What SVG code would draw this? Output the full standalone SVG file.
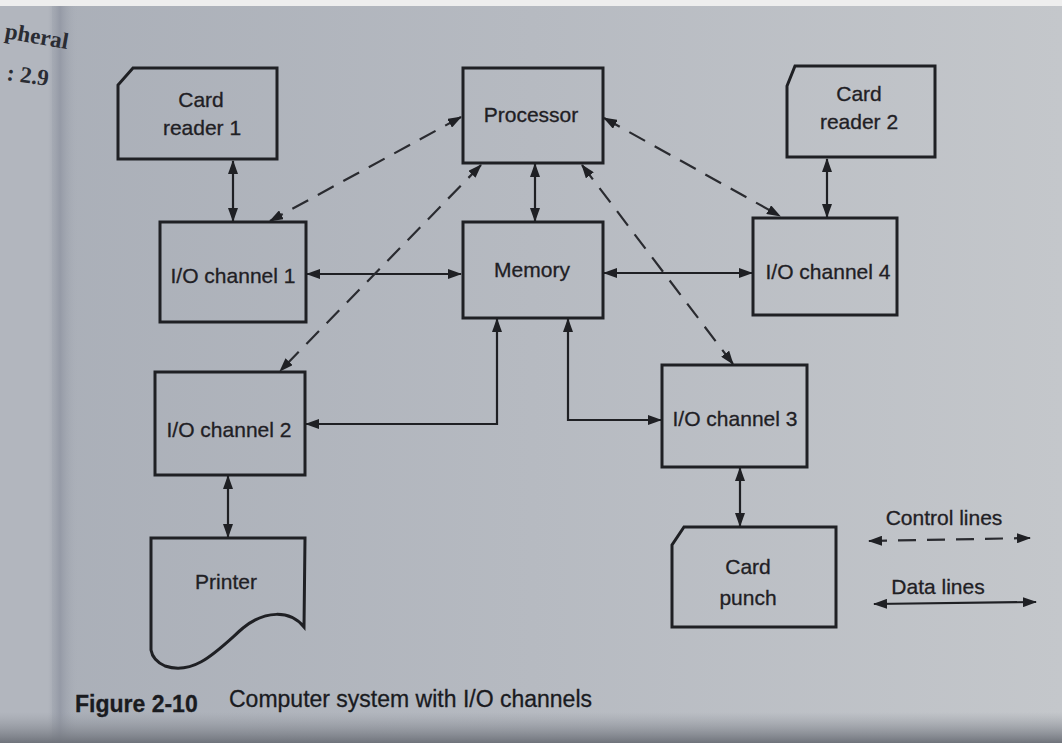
<svg xmlns="http://www.w3.org/2000/svg" width="1062" height="743" viewBox="0 0 1062 743">
<defs>
<linearGradient id="bg" x1="0" y1="0" x2="1" y2="0">
<stop offset="0" stop-color="#a9aeb7"/>
<stop offset="0.5" stop-color="#b6bac1"/>
<stop offset="1" stop-color="#c4c7cb"/>
</linearGradient>
<linearGradient id="spine" x1="0" y1="0" x2="1" y2="0">
<stop offset="0" stop-color="#9ea3ad" stop-opacity="0"/>
<stop offset="0.4" stop-color="#959aa6"/>
<stop offset="1" stop-color="#a9aeb7" stop-opacity="0"/>
</linearGradient>
<linearGradient id="bottom" x1="0" y1="0" x2="0" y2="1">
<stop offset="0" stop-color="#8f939b" stop-opacity="0"/>
<stop offset="1" stop-color="#6f737b"/>
</linearGradient>
<marker id="ah" viewBox="0 0 14 10" refX="13" refY="5" markerWidth="14" markerHeight="10" markerUnits="userSpaceOnUse" orient="auto-start-reverse">
<path d="M0,0 L14,5 L0,10 Z" fill="#1f2024"/>
</marker>
<style>
.box{fill:none;stroke:#1f2024;stroke-width:3;stroke-linejoin:miter}
.data{fill:none;stroke:#1f2024;stroke-width:2.2;marker-start:url(#ah);marker-end:url(#ah)}
.ctrl{fill:none;stroke:#2a2b30;stroke-width:2.2;stroke-dasharray:18 11;marker-start:url(#ah);marker-end:url(#ah)}
.lbl{font-family:"Liberation Sans",Arial,sans-serif;font-size:21px;fill:#1f2024;text-anchor:middle;stroke:#1f2024;stroke-width:0.3}
.cap{font-family:"Liberation Sans",Arial,sans-serif;font-size:23px;fill:#1a1b1f;stroke:#1a1b1f;stroke-width:0.3}
.margin{font-family:"Liberation Serif","Times New Roman",serif;font-size:23px;fill:#2a2c33;font-weight:bold}
</style>
</defs>
<rect x="0" y="0" width="1062" height="743" fill="url(#bg)"/>
<rect x="0" y="0" width="52" height="743" fill="#b2b6be"/>
<rect x="48" y="0" width="30" height="743" fill="url(#spine)"/>
<rect x="0" y="712" width="1062" height="31" fill="url(#bottom)"/>
<rect x="0" y="0" width="1062" height="6" fill="#eeeeee"/>
<text class="margin" x="4" y="38" transform="rotate(10 4 38)">pheral</text>
<text class="margin" x="6" y="80" transform="rotate(8 6 80)">: 2.9</text>

<g id="connectors">
<line class="data" x1="233" y1="161" x2="233" y2="221"/>
<line class="data" x1="827" y1="159" x2="827" y2="217"/>
<line class="data" x1="535" y1="164" x2="535" y2="221"/>
<line class="data" x1="228" y1="476" x2="228" y2="537"/>
<line class="data" x1="740" y1="468" x2="740" y2="526"/>
<line class="data" x1="307" y1="274" x2="461" y2="274"/>
<line class="data" x1="604" y1="273" x2="752" y2="273"/>
<path class="data" d="M497,319 L497,424 L306,424"/>
<path class="data" d="M568,319 L568,420 L661,420"/>
<line class="ctrl" x1="461" y1="117" x2="270" y2="221"/>
<line class="ctrl" x1="481" y1="165" x2="280" y2="371"/>
<line class="ctrl" x1="604" y1="118" x2="780" y2="216"/>
<line class="ctrl" x1="582" y1="165" x2="733" y2="364"/>
</g>

<g id="processor"><rect class="box" x="463" y="68" width="140" height="95"/><text class="lbl" x="531" y="122">Processor</text></g>
<g id="memory"><rect class="box" x="463" y="222" width="140" height="96"/><text class="lbl" x="532" y="277">Memory</text></g>
<g id="card-reader-1"><path class="box" d="M133,68 L277,68 L277,159 L118,159 L118,85 Z"/><text class="lbl" x="201" y="107">Card</text><text class="lbl" x="202" y="135">reader 1</text></g>
<g id="io-channel-1"><rect class="box" x="160" y="222" width="146" height="100"/><text class="lbl" x="233" y="283">I/O channel 1</text></g>
<g id="card-reader-2"><path class="box" d="M795,66 L935,66 L935,157 L787,157 L787,86 Z"/><text class="lbl" x="859" y="101">Card</text><text class="lbl" x="859" y="129">reader 2</text></g>
<g id="io-channel-4"><rect class="box" x="753" y="218" width="144" height="97"/><text class="lbl" x="828" y="279">I/O channel 4</text></g>
<g id="io-channel-2"><rect class="box" x="155" y="372" width="150" height="103"/><text class="lbl" x="229" y="437">I/O channel 2</text></g>
<g id="io-channel-3"><rect class="box" x="662" y="365" width="145" height="102"/><text class="lbl" x="735" y="426">I/O channel 3</text></g>
<g id="printer"><path class="box" d="M151,538 L305,538 L304,627 C290,610 265,610 243,628 C218,650 195,676 165,666 C156,662 152,656 151,650 Z"/><text class="lbl" x="226" y="589">Printer</text></g>
<g id="card-punch"><path class="box" d="M684,527 L836,527 L836,627 L672,627 L672,545 Z"/><text class="lbl" x="748" y="574">Card</text><text class="lbl" x="748" y="605">punch</text></g>

<g id="legend">
<text class="lbl" x="944" y="525">Control lines</text>
<line class="ctrl" x1="869" y1="541" x2="1030" y2="538"/>
<text class="lbl" x="938" y="594">Data lines</text>
<line class="data" x1="874" y1="604" x2="1036" y2="602"/>
</g>

<g id="caption">
<text class="cap" x="75" y="712" font-weight="bold">Figure 2-10</text>
<text class="cap" x="229" y="707">Computer system with I/O channels</text>
</g>
</svg>
